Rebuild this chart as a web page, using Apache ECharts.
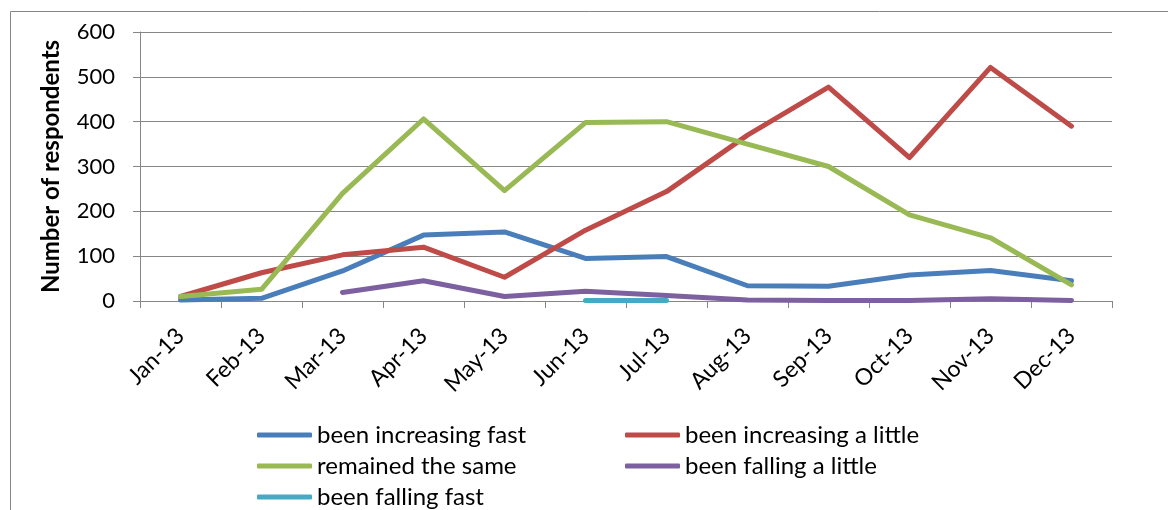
<!DOCTYPE html>
<html>
<head>
<meta charset="utf-8">
<script src="https://cdn.jsdelivr.net/npm/echarts@6/dist/echarts.min.js"></script>
<style>
	html, body { margin: 0; padding: 0; background: #fff; }
	#main { width: 1168px; height: 510px; }
</style>
</head>
<body>
<div id="main"></div>
<script>
// months on the x axis
const months = ['Jan-13', 'Feb-13', 'Mar-13', 'Apr-13', 'May-13', 'Jun-13', 'Jul-13', 'Aug-13', 'Sep-13', 'Oct-13', 'Nov-13', 'Dec-13']
const yTicks = [0, 100, 200, 300, 400, 500, 600]

// series values
const increasingFast = [2, 6, 67, 147, 154, 95, 99, 34, 33, 58, 68, 45]
const increasingLittle = [10, 63, 103, 120, 53, 158, 244, 370, 477, 320, 521, 390]
const remainedSame = [10, 26, 240, 406, 246, 398, 400, 350, 300, 192, 141, 36]
const fallingLittle = [null, null, 19, 45, 10, 22, 12, 2, 1, 1, 5, 1]
const fallingFast = [null, null, null, null, null, 1, 1, null, null, null, null, null]

const names = ['been increasing fast', 'been increasing a little', 'remained the same', 'been falling a little', 'been falling fast']
const colors = ['#4a7ebb', '#be4b48', '#98b954', '#7d60a0', '#46aac5']
const values = [increasingFast, increasingLittle, remainedSame, fallingLittle, fallingFast]

const font = 'Lato, "Noto Sans", sans-serif'
const gridColor = '#868686'

const myChart = echarts.init(document.getElementById('main'))

// one legend per entry, laid out in two columns like the original
const legendSpots = [
	{ left: 257, top: 423 },
	{ left: 625, top: 423 },
	{ left: 257, top: 454 },
	{ left: 625, top: 454 },
	{ left: 257, top: 485 }
]
const legends = names.map(function(name, i) {
	return {
		left: legendSpots[i].left,
		top: legendSpots[i].top,
		padding: 0,
		icon: 'roundRect',
		itemWidth: 55,
		itemHeight: 5,
		data: [name],
		textStyle: {
			fontFamily: font,
			fontSize: 24,
			color: '#000'
		}
	}
})

const option = {
	animation: false,
	color: colors,
	graphic: [
		{
			type: 'rect',
			shape: { x: 10.5, y: 11.5, width: 1170, height: 520 },
			style: { fill: 'none', stroke: gridColor, lineWidth: 1 }
		}
	],
	grid: {
		left: 140,
		right: 56,
		top: 32,
		bottom: 209
	},
	legend: legends,
	xAxis: {
		type: 'category',
		boundaryGap: true,
		data: months,
		axisLine: { lineStyle: { color: gridColor, width: 1 } },
		axisTick: { show: true, length: 7, alignWithLabel: false, lineStyle: { color: gridColor } },
		axisLabel: {
			rotate: 45,
			margin: 31,
			interval: 0,
			fontFamily: font,
			fontSize: 23,
			color: '#000'
		}
	},
	yAxis: {
		type: 'value',
		min: 0,
		max: 600,
		interval: 100,
		name: 'Number of respondents',
		nameLocation: 'middle',
		nameGap: 77,
		nameTextStyle: {
			fontFamily: font,
			fontSize: 24,
			fontWeight: 'bold',
			color: '#000'
		},
		axisLine: { show: true, lineStyle: { color: gridColor, width: 1 } },
		axisTick: { show: true, length: 7, lineStyle: { color: gridColor } },
		splitLine: { show: true, lineStyle: { color: gridColor, width: 1 } },
		axisLabel: {
			margin: 25,
			fontFamily: font,
			fontSize: 22,
			color: '#000',
			formatter: function(value) {
				return yTicks.indexOf(value) >= 0 ? String(value) : ''
			}
		}
	},
	series: values.map(function(data, i) {
		return {
			name: names[i],
			type: 'line',
			data: data,
			symbol: 'none',
			smooth: false,
			connectNulls: false,
			lineStyle: { width: 5, color: colors[i], cap: 'round', join: 'round' },
			itemStyle: { color: colors[i] }
		}
	})
}

myChart.setOption(option)
</script>
</body>
</html>
